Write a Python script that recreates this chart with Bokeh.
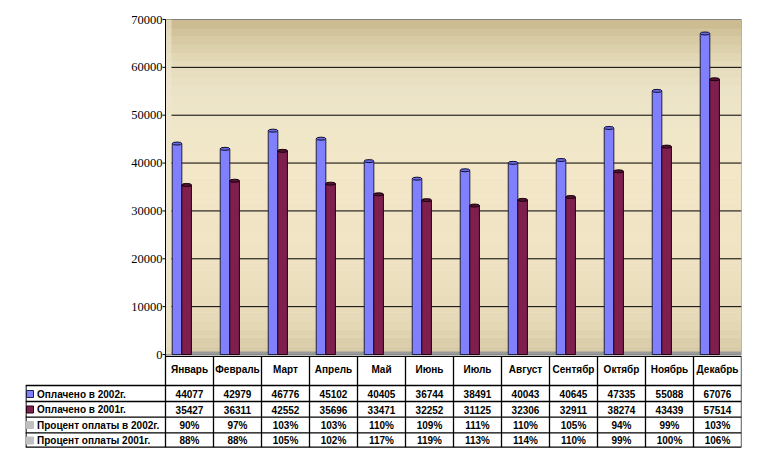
from bokeh.plotting import figure
from bokeh.models import ColumnDataSource, Range1d
from bokeh.core.properties import value
from bokeh.embed import file_html
from bokeh.resources import INLINE

months = ["Январь", "Февраль", "Март", "Апрель", "Май", "Июнь", "Июль",
          "Август", "Сентябр", "Октябр", "Ноябрь", "Декабрь"]
paid_2002 = [44077, 42979, 46776, 45102, 40405, 36744, 38491, 40043, 40645, 47335, 55088, 67076]
paid_2001 = [35427, 36311, 42552, 35696, 33471, 32252, 31125, 32306, 32911, 38274, 43439, 57514]
pct_2002 = ["90%", "97%", "103%", "103%", "110%", "109%", "111%", "110%", "105%", "94%", "99%", "103%"]
pct_2001 = ["88%", "88%", "105%", "102%", "117%", "119%", "113%", "114%", "110%", "99%", "100%", "106%"]
row_labels = ["Оплачено в 2002г.", "Оплачено в 2001г.", "Процент оплаты в 2002г.", "Процент оплаты  2001г."]
y_ticks = [0, 10000, 20000, 30000, 40000, 50000, 60000, 70000]
y_max = 70000

BLUE = "#8080ff"
MAROON = "#7f1f4f"
GRAY = "#c0c0c0"

n = len(months)
CW = 48.0                      # px per category column
left = -140 / CW               # legend column of the table
PX = y_max / 335.0             # value units per pixel
ZERO_PAGE = 354.0
FRAME_TOP = 6
FRAME_BOTTOM = 448


def py(page_y):
    return (ZERO_PAGE - page_y) * PX


p = figure(x_range=Range1d(left, n), y_range=Range1d(py(FRAME_BOTTOM), py(FRAME_TOP)),
           width=753, height=FRAME_BOTTOM, min_border_left=25, min_border_right=12,
           min_border_top=FRAME_TOP, min_border_bottom=0,
           x_axis_location=None, y_axis_location=None,
           output_backend="svg", toolbar_location=None)
p.grid.visible = False
p.outline_line_color = None
p.background_fill_color = "white"
p.border_fill_color = "white"


# back wall: vertical gradient made of thin bands (decoration)
def hex2rgb(h):
    return tuple(int(h[i:i + 2], 16) for i in (1, 3, 5))


stops = [(0.0, "#d6c9a5"), (0.11, "#e6dab8"), (0.3, "#efe3c3"), (0.55, "#f3e7c8"),
         (0.78, "#ece4c8"), (0.88, "#e3d9b8"), (1.0, "#c9b98e")]
nb = 40
bb, bt, bc = [], [], []
for k in range(nb):
    f = (k + 0.5) / nb
    for (f0, c0), (f1, c1) in zip(stops[:-1], stops[1:]):
        if f0 <= f <= f1:
            r0, r1 = hex2rgb(c0), hex2rgb(c1)
            w = (f - f0) / (f1 - f0)
            col = "#%02x%02x%02x" % tuple(round(a + (b - a) * w) for a, b in zip(r0, r1))
            break
    bb.append(y_max * k / nb)
    bt.append(y_max * (k + 1) / nb)
    bc.append(col)
p.quad(left=[0] * nb, right=[n] * nb, bottom=bb, top=bt, fill_color=bc, line_color=bc,
       line_width=0.5)
p.quad(left=[0], right=[n], bottom=[0], top=[y_max], fill_color=None,
       line_color="#808080", line_width=1)
p.quad(left=[0], right=[6 / CW], bottom=[0], top=[y_max], fill_color="#efe8d0",
       fill_alpha=0.6, line_color=None)
# gridlines
p.segment(x0=[6 / CW] * len(y_ticks[1:-1]), x1=[n] * len(y_ticks[1:-1]),
          y0=y_ticks[1:-1], y1=y_ticks[1:-1], line_color="black", line_width=1)
# floor
p.segment(x0=[6 / CW], x1=[n], y0=[1.5 * PX], y1=[1.5 * PX], line_color="#9a9a9a", line_width=3)

# y axis (line, ticks, labels)
p.segment(x0=[0], x1=[0], y0=[0], y1=[y_max], line_color="black", line_width=1)
p.segment(x0=[-3 / CW] * len(y_ticks), x1=[0] * len(y_ticks), y0=y_ticks, y1=y_ticks,
          line_color="black", line_width=1)
p.text(x=[-3 / CW] * len(y_ticks), y=y_ticks, text=[str(t) for t in y_ticks],
       text_align="right", text_baseline="middle", text_font=value("Liberation Serif"),
       text_font_size="12.5px", text_color="black")

# bars (cylinders)
xc = [i + 0.5 for i in range(n)]
src = ColumnDataSource(dict(xa=[x - 0.26 for x in xc], xb=[x - 0.06 for x in xc],
                            a=paid_2002, b=paid_2001))
p.vbar(x="xa", top="a", bottom=0, width=0.2, source=src,
       fill_color=BLUE, line_color="#202040", line_width=1)
p.vbar(x="xb", top="b", bottom=0, width=0.2, source=src,
       fill_color=MAROON, line_color="#200010", line_width=1)
p.ellipse(x="xa", y="a", width=0.2, height=3, height_units="screen", source=src,
          fill_color="#6a6ae0", line_color="#101030")
p.ellipse(x="xb", y="b", width=0.2, height=3, height_units="screen", source=src,
          fill_color="#5a1035", line_color="#100008")

# ---------------- data table ----------------
edges = [py(385), py(401), py(416.7), py(432.3), py(446.7)]
top_line = py(355.8)
x0, y0, x1, y1 = [], [], [], []
for i in range(n + 1):
    x0.append(i); x1.append(i); y0.append(top_line if i else 0); y1.append(edges[-1])
x0.append(left + 0.5 / CW); x1.append(left + 0.5 / CW); y0.append(edges[0]); y1.append(edges[-1])
x0.append(0); x1.append(n); y0.append(top_line); y1.append(top_line)
for e in edges:
    x0.append(left); x1.append(n); y0.append(e); y1.append(e)
p.segment(x0=x0, y0=y0, x1=x1, y1=y1, line_color="black", line_width=1.3)

tf = value("Liberation Sans")
p.text(x=xc, y=[py(369)] * n, text=months, text_align="center",
       text_baseline="middle", text_font=tf, text_font_style="bold",
       text_font_size="10px", text_color="black")
row_y = [py(393.5), py(409), py(424.5), py(440)]
rows = [[str(v) for v in paid_2002], [str(v) for v in paid_2001], pct_2002, pct_2001]
for ry, vals in zip(row_y, rows):
    p.text(x=xc, y=[ry] * n, text=vals, text_align="center",
           text_baseline="middle", text_font=tf, text_font_style="bold",
           text_font_size="10px", text_color="black")

p.scatter(x=[left + 4.5 / CW] * 4, y=row_y, marker="square", size=7,
          fill_color=[BLUE, MAROON, GRAY, GRAY],
          line_color=["#202040", "#200010", GRAY, GRAY])
p.text(x=[left + 11.5 / CW] * 4, y=row_y, text=row_labels, text_align="left",
       text_baseline="middle", text_font=tf, text_font_style="bold",
       text_font_size="10px", text_color="black")

open("out.html", "w").write(file_html(p, INLINE))
